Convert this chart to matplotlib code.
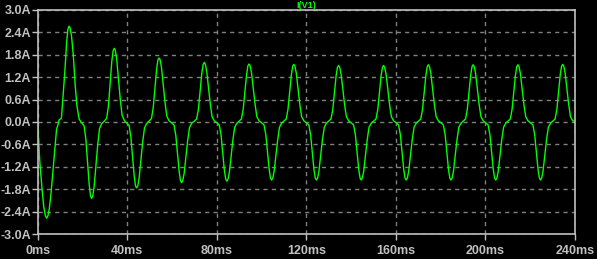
import numpy as np
import matplotlib
matplotlib.use("Agg")
import matplotlib.pyplot as plt

# current through V1 (ms, A)
first_t = [0.0, 0.4, 0.9, 1.9, 2.7, 3.4, 4.0, 4.6, 5.1, 5.8, 6.6, 7.6, 8.4, 9.2]
first_i = [0.0, -0.45, -1.02, -1.77, -2.26, -2.50, -2.57, -2.50, -2.35, -2.00, -1.46, -0.75, -0.21, -0.04]

# every later pulse is sampled at the same offsets around its extremum
pulse_offsets = [-4.5, -3.4, -2.6, -1.9, -1.1, -0.5, 0.0, 0.5, 1.1, 1.9, 2.7, 3.5, 4.5]
pulse_times = [14.0, 24.1, 34.2, 44.2, 54.2, 64.3, 74.4, 84.5, 94.4, 104.5, 114.4, 124.5,
               134.4, 144.5, 154.5, 164.6, 174.5, 184.6, 194.5, 204.6, 214.5, 224.6, 234.5]
pulse_values = [
    [0.05, 0.10, 0.77, 1.33, 2.10, 2.48, 2.56, 2.51, 2.30, 1.79, 1.02, 0.44, 0.08],
    [-0.02, -0.10, -0.45, -1.02, -1.67, -1.98, -2.04, -1.98, -1.73, -1.18, -0.61, -0.18, -0.04],
    [0.02, 0.10, 0.43, 0.99, 1.62, 1.91, 1.97, 1.91, 1.67, 1.14, 0.59, 0.18, 0.04],
    [-0.02, -0.09, -0.39, -0.88, -1.44, -1.71, -1.76, -1.71, -1.50, -1.02, -0.53, -0.16, -0.04],
    [0.02, 0.09, 0.38, 0.86, 1.40, 1.66, 1.71, 1.66, 1.45, 0.99, 0.51, 0.15, 0.03],
    [-0.02, -0.08, -0.36, -0.81, -1.33, -1.57, -1.62, -1.57, -1.38, -0.94, -0.49, -0.15, -0.03],
    [0.02, 0.08, 0.35, 0.80, 1.30, 1.54, 1.59, 1.54, 1.35, 0.92, 0.48, 0.14, 0.03],
    [-0.02, -0.08, -0.35, -0.79, -1.30, -1.53, -1.58, -1.53, -1.34, -0.92, -0.47, -0.14, -0.03],
    [0.02, 0.08, 0.34, 0.78, 1.27, 1.50, 1.55, 1.50, 1.32, 0.90, 0.47, 0.14, 0.03],
    [-0.02, -0.08, -0.34, -0.78, -1.27, -1.50, -1.55, -1.50, -1.32, -0.90, -0.47, -0.14, -0.03],
    [0.02, 0.08, 0.34, 0.77, 1.26, 1.49, 1.54, 1.49, 1.31, 0.89, 0.46, 0.14, 0.03],
    [-0.02, -0.08, -0.34, -0.78, -1.27, -1.50, -1.55, -1.50, -1.32, -0.90, -0.47, -0.14, -0.03],
    [0.02, 0.08, 0.33, 0.76, 1.24, 1.46, 1.51, 1.46, 1.28, 0.88, 0.45, 0.14, 0.03],
    [-0.02, -0.08, -0.34, -0.78, -1.27, -1.50, -1.55, -1.50, -1.32, -0.90, -0.47, -0.14, -0.03],
    [0.02, 0.08, 0.33, 0.76, 1.24, 1.46, 1.51, 1.46, 1.28, 0.88, 0.45, 0.14, 0.03],
    [-0.02, -0.08, -0.34, -0.78, -1.27, -1.50, -1.55, -1.50, -1.32, -0.90, -0.47, -0.14, -0.03],
    [0.02, 0.08, 0.34, 0.77, 1.25, 1.48, 1.53, 1.48, 1.30, 0.89, 0.46, 0.14, 0.03],
    [-0.02, -0.08, -0.34, -0.78, -1.27, -1.50, -1.55, -1.50, -1.32, -0.90, -0.47, -0.14, -0.03],
    [0.02, 0.08, 0.34, 0.77, 1.25, 1.48, 1.53, 1.48, 1.30, 0.89, 0.46, 0.14, 0.03],
    [-0.02, -0.08, -0.34, -0.78, -1.27, -1.50, -1.55, -1.50, -1.32, -0.90, -0.47, -0.14, -0.03],
    [0.02, 0.08, 0.34, 0.77, 1.25, 1.48, 1.53, 1.48, 1.30, 0.89, 0.46, 0.14, 0.03],
    [-0.02, -0.08, -0.34, -0.78, -1.27, -1.50, -1.55, -1.50, -1.32, -0.90, -0.47, -0.14, -0.03],
    [0.02, 0.08, 0.34, 0.77, 1.26, 1.49, 1.54, 1.49, 1.31, 0.89, 0.46, 0.14, 0.03],
]
end_t = [240.0]
end_i = [0.02]

x_ticks = [0, 40, 80, 120, 160, 200, 240]
x_labels = ["0ms", "40ms", "80ms", "120ms", "160ms", "200ms", "240ms"]
y_ticks = [-3.0, -2.4, -1.8, -1.2, -0.6, 0.0, 0.6, 1.2, 1.8, 2.4, 3.0]
y_labels = ["-3.0A", "-2.4A", "-1.8A", "-1.2A", "-0.6A", "0.0A", "0.6A", "1.2A", "1.8A", "2.4A", "3.0A"]

# stitch the trace together
t = list(first_t)
i = list(first_i)
for tp, row in zip(pulse_times, pulse_values):
    t += [tp + o for o in pulse_offsets]
    i += row
t += end_t
i += end_i

W, H = 597, 259
fig = plt.figure(figsize=(W / 100, H / 100), dpi=100, facecolor="black")
ax = fig.add_axes([37.7 / W, (H - 234.3) / H, (575 - 37.7) / W, (234.3 - 9.7) / H])
ax.set_facecolor("black")

ax.plot(t, i, color="#00ff00", lw=1.0)

ax.set_xlim(0, 240)
ax.set_ylim(-3.0, 3.0)
ax.set_xticks(x_ticks)
ax.set_xticklabels(x_labels)
ax.set_yticks(y_ticks)
ax.set_yticklabels(y_labels)

ax.grid(True, color="#808080", linestyle=(0, (3, 3)), lw=1.0)
for s in ax.spines.values():
    s.set_color("#c0c0c0")
    s.set_linewidth(1.2)

font = dict(family="Liberation Sans", weight="bold", size=9.0)
for lab in ax.get_xticklabels() + ax.get_yticklabels():
    lab.set_fontproperties(font)
    lab.set_color("#c0c0c0")
ax.tick_params(axis="both", colors="#c0c0c0", length=4.5, width=1.0)
ax.tick_params(axis="y", pad=0.3)
ax.tick_params(axis="x", pad=3.0)

# trace name sits just above the plot frame
fig.text(0.5 + 0.5 * (37.7 + 575 - W) / W, 1 - 0.5 / H, "I(V1)", color="#00ff00",
         ha="center", va="top", family="Liberation Sans", weight="bold", size=6.5)

fig.savefig("out.png", dpi=100, facecolor="black")
